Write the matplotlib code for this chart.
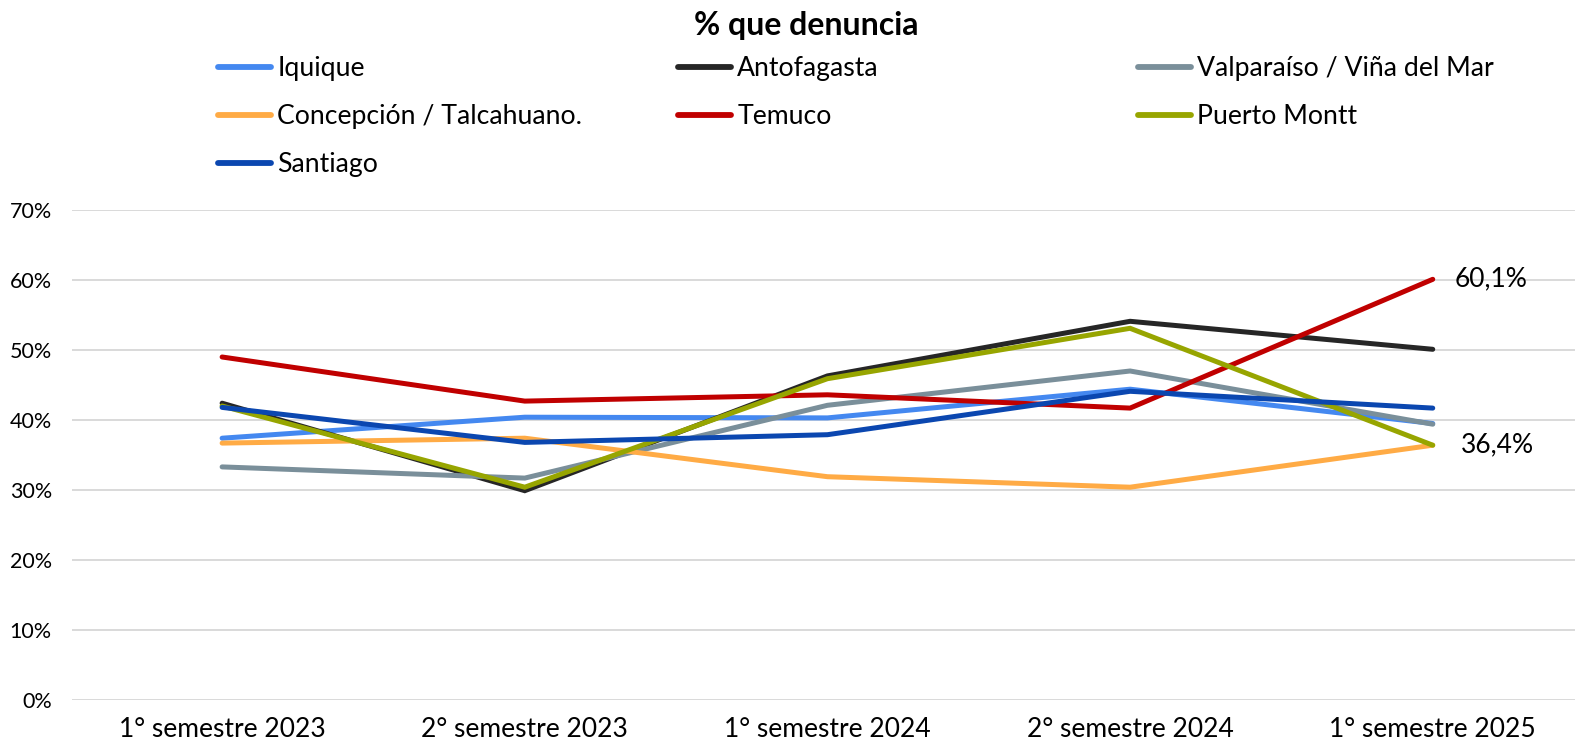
import matplotlib
matplotlib.use("Agg")
import matplotlib.pyplot as plt
from matplotlib.ticker import FuncFormatter

plt.rcParams['font.family'] = ['Lato', 'DejaVu Sans']

categories = ["1° semestre 2023", "2° semestre 2023", "1° semestre 2024",
              "2° semestre 2024", "1° semestre 2025"]
iquique = [37.4, 40.4, 40.3, 44.4, 39.5]
antofagasta = [42.4, 29.9, 46.3, 54.1, 50.1]
valparaiso = [33.3, 31.7, 42.1, 47.0, 39.4]
concepcion = [36.7, 37.4, 31.9, 30.4, 36.4]
temuco = [49.0, 42.7, 43.6, 41.7, 60.1]
puerto_montt = [42.0, 30.4, 45.9, 53.1, 36.4]
santiago = [41.8, 36.8, 37.9, 44.1, 41.7]

series_names = ["Iquique", "Antofagasta", "Valparaíso / Viña del Mar",
                "Concepción / Talcahuano.", "Temuco", "Puerto Montt", "Santiago"]
series_values = [iquique, antofagasta, valparaiso, concepcion, temuco,
                 puerto_montt, santiago]
colors = ["#4488F0", "#262626", "#7A8F9A", "#FFAB45", "#C00000", "#97A500", "#0B47B0"]

fig = plt.figure(figsize=(15.75, 7.48), dpi=100)
ax = fig.add_axes([72/1575, 1-700/748, 1-72/1575, 490/748])

x = list(range(len(categories)))
handles = []
for name, vals, c in zip(series_names, series_values, colors):
    h, = ax.plot(x, vals, color=c, lw=3.6, solid_capstyle='round',
                 solid_joinstyle='miter', label=name)
    handles.append(h)

ax.set_xlim(-0.496, 4.47)
ax.set_ylim(0, 70)
ax.set_yticks(range(0, 71, 10))
ax.yaxis.set_major_formatter(FuncFormatter(lambda v, p: f"{int(v)}%"))
ax.set_xticks(x)
ax.set_xticklabels(categories)
ax.grid(axis='y', color='#D9D9D9', lw=1.4)
ax.set_axisbelow(True)
for s in ax.spines.values():
    s.set_visible(False)
ax.tick_params(axis='both', length=0)
ax.tick_params(axis='y', labelsize=15.5, pad=14.5, colors='#000000')
ax.tick_params(axis='x', labelsize=19, pad=12, colors='#000000')

# data labels
ax.annotate("60,1%", (4, temuco[4]), xytext=(16, 0), textcoords='offset points',
            ha='left', va='center', fontsize=19)
ax.annotate("36,4%", (4, puerto_montt[4]), xytext=(20, 0), textcoords='offset points',
            ha='left', va='center', fontsize=19)

fig.text(806/1575, 1-25/748, "% que denuncia", ha='center', va='center',
         fontsize=23, fontweight='bold')

# legend: three columns, row-major order
cols = [[0, 3, 6], [1, 4], [2, 5]]
xs = [218/1575, 678/1575, 1138/1575]
for cidx, xpos in zip(cols, xs):
    leg = fig.legend([handles[i] for i in cidx], [series_names[i] for i in cidx],
                     loc='upper left', bbox_to_anchor=(xpos, 1-56/748),
                     frameon=False, fontsize=19.2, handlelength=2.0,
                     handletextpad=0.22, labelspacing=0.86, borderpad=0,
                     borderaxespad=0)
    for lh in leg.get_lines():
        lh.set_linewidth(4.2)
        lh.set_solid_capstyle('round')

fig.savefig("out.png", dpi=100)
